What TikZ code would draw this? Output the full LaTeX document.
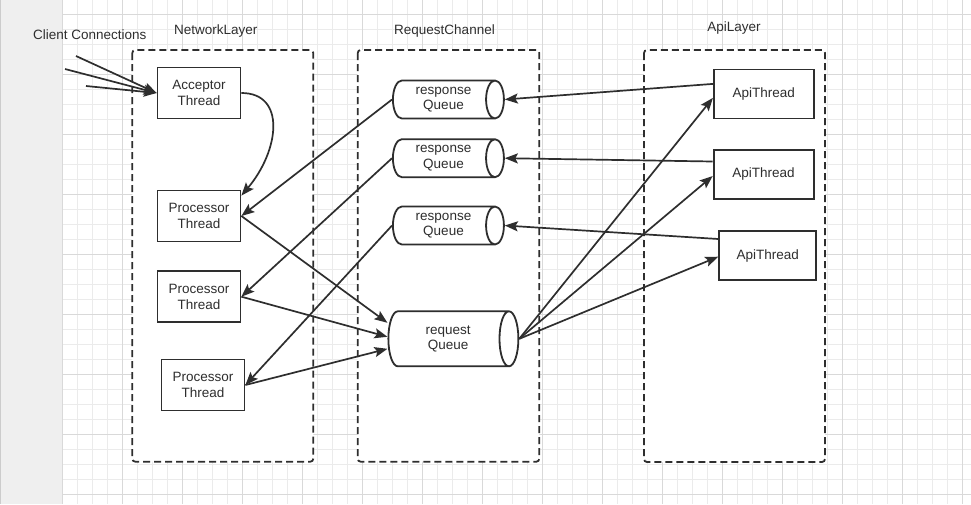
\documentclass[tikz,border=0pt]{standalone}
\usepackage{fontspec}
\setmainfont{Liberation Sans}
\usetikzlibrary{shapes.geometric,arrows.meta}
\definecolor{ink}{HTML}{2E2E2E}
\definecolor{gridminor}{HTML}{EBEBEB}
\definecolor{gridmajor}{HTML}{D9D9D9}
\definecolor{strip}{HTML}{EFEFEF}

\begin{document}
\begin{tikzpicture}[x=1pt,y=-1pt,
    font=\fontsize{13.5}{15.7}\selectfont, text=ink,
    layer/.style={draw=ink, dash pattern=on 7pt off 4pt, line width=1.8pt, fill=white, rounded corners=3pt},
    thread/.style={draw=ink, line width=1.8pt, fill=white, align=center, inner sep=0pt},
    queue/.style={cylinder, draw=ink, line width=1.8pt, fill=white, align=center, aspect=0.7, inner sep=0pt},
    link/.style={draw=ink, line width=1.7pt, -{Stealth[length=13pt,width=10pt,inset=2.5pt]}}]
                    \useasboundingbox (0,0) rectangle (971,504);

                    % BACKGROUND
                    \fill[strip] (0,0) rectangle (62.3,504);
                    \draw[gray!40] (0.6,0) -- (0.6,504);
                    \foreach \x in {62.3,77.3,...,971} \draw[gridminor, line width=0.8pt] (\x,0) -- (\x,504);
                    \foreach \y in {14.3,29.3,...,504} \draw[gridminor, line width=0.8pt] (62.3,\y) -- (971,\y);
                    \foreach \x in {62.3,122.3,...,971} \draw[gridmajor, line width=0.8pt] (\x,0) -- (\x,504);
                    \foreach \y in {14.3,74.3,...,504} \draw[gridmajor, line width=0.8pt] (62.3,\y) -- (971,\y);

                    % LAYERS
                    \draw[layer] (132.3,50) rectangle (313.3,461.7);
                    \draw[layer] (357.7,50) rectangle (539.3,461.7);
                    \draw[layer] (644,50) rectangle (825,462);
                    \node (netTitle) at (215.7,30.7) {NetworkLayer};
                    \node (chanTitle) at (444.5,30.7) {RequestChannel};
                    \node (apiTitle) at (734,28) {ApiLayer};
                    \node (clients) at (89.7,35) {Client Connections};

                    % NETWORK LAYER
                    \node[thread, minimum width=83, minimum height=51] (acc) at (199,93) {Acceptor\\Thread};
                    \node[thread, minimum width=83, minimum height=51] (proc1) at (199,216) {Processor\\Thread};
                    \node[thread, minimum width=83, minimum height=51] (proc2) at (199,296.7) {Processor\\Thread};
                    \node[thread, minimum width=83, minimum height=51] (proc3) at (203,385) {Processor\\Thread};

                    % REQUEST CHANNEL
                    \node[queue, minimum width=38, minimum height=111] (rq1) at (443.5,99.5) {response\\Queue};
                    \node[queue, minimum width=38, minimum height=111] (rq2) at (443.5,158.2) {response\\Queue};
                    \node[queue, minimum width=38, minimum height=111] (rq3) at (443.5,225.5) {response\\Queue};
                    \node[queue, minimum width=55, minimum height=130] (reqQ) at (448.2,338.8) {request\\Queue};

                    % API LAYER
                    \node[thread, minimum width=100, minimum height=49] (at1) at (763.8,93.9) {ApiThread};
                    \node[thread, minimum width=100, minimum height=49] (at2) at (763.6,174.5) {ApiThread};
                    \node[thread, minimum width=97, minimum height=49] (at3) at (767.7,255.7) {ApiThread};

                    % CONNECTIONS
                    \coordinate (c1) at (76,56);
                    \coordinate (c2) at (65,69);
                    \coordinate (c3) at (86,86);
                    \draw[link] (c1) -- (acc.west);
                    \draw[link] (c2) -- (acc.west);
                    \draw[link] (c3) -- (acc.west);
                    \draw[link] (acc.east) .. controls +(45,0) and +(38,-45) .. ([yshift=-6pt]proc1.north east);

                    \draw[link] (rq1.west) -- (proc1.east);
                    \draw[link] (rq2.west) -- (proc2.east);
                    \draw[link] (rq3.west) -- (proc3.east);

                    \draw[link] (proc1.east) -- ([yshift=16pt]reqQ.west);
                    \draw[link] (proc2.east) -- ([yshift=2pt]reqQ.west);
                    \draw[link] (proc3.east) -- ([yshift=-10pt]reqQ.west);

                    \draw[link] (reqQ.east) -- ([yshift=-4pt]at1.west);
                    \draw[link] (reqQ.east) -- ([yshift=-1.5pt]at2.west);
                    \draw[link] (reqQ.east) -- ([yshift=-1pt]at3.west);

                    \draw[link] ([yshift=10pt]at1.west) -- (rq1.east);
                    \draw[link] ([yshift=13pt]at2.west) -- (rq2.east);
                    \draw[link] ([yshift=16.7pt]at3.west) -- (rq3.east);
                \end{tikzpicture}
\end{document}
